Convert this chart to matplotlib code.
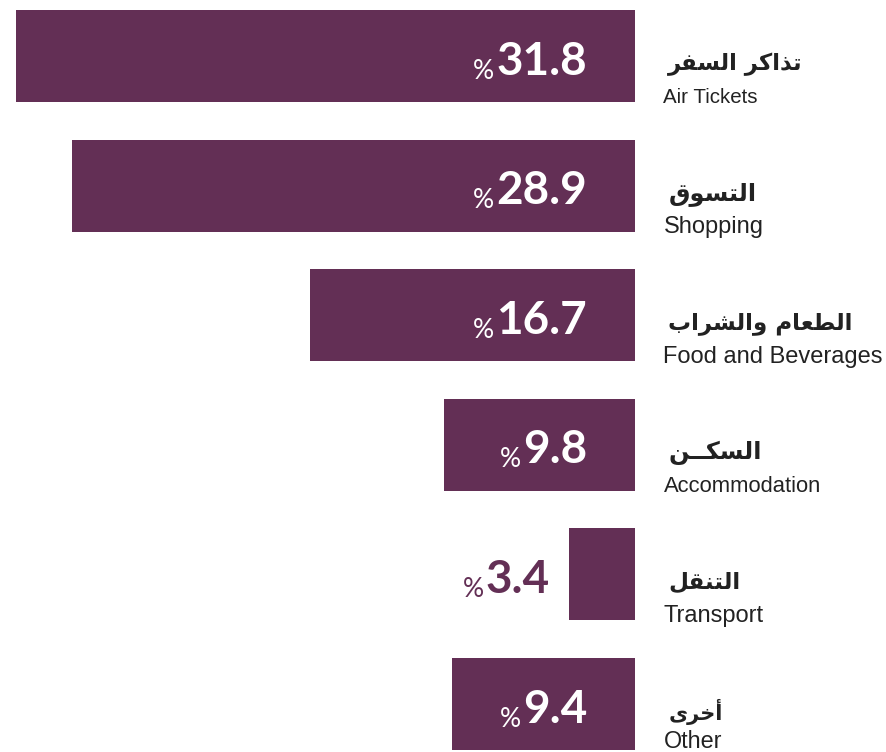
import matplotlib
matplotlib.use("Agg")
import matplotlib.pyplot as plt

# data
labels_ar = ["تذاكر السفر", "التسوق", "الطعام والشراب", "السكــن", "التنقل", "أخرى"]
labels_en = ["Air Tickets", "Shopping", "Food and Beverages", "Accommodation", "Transport", "Other"]
values = [31.8, 28.9, 16.7, 9.8, 3.4, 9.4]
value_text = ["31.8", "28.9", "16.7", "9.8", "3.4", "9.4"]

PURPLE = "#632f55"
DARK = "#222222"
# label sizes differ a little from row to row in the original
ar_sizes = [16.4, 17.3, 16.6, 17.3, 16.6, 15.0]
en_sizes = [14.8, 17.0, 17.0, 15.8, 17.0, 16.8]
en_dy = [-30, -30, -30, -30, -30, -27]

# very small arabic shaper (matplotlib has no text shaping)
# letter: (isolated, final, initial, medial); two forms = no join to next letter
FORMS = {
    "ا": (0xFE8D, 0xFE8E), "أ": (0xFE83, 0xFE84), "ذ": (0xFEAB, 0xFEAC),
    "ر": (0xFEAD, 0xFEAE), "و": (0xFEED, 0xFEEE), "ى": (0xFEEF, 0xFEF0),
    "ب": (0xFE8F, 0xFE90, 0xFE91, 0xFE92), "ت": (0xFE95, 0xFE96, 0xFE97, 0xFE98),
    "خ": (0xFEA5, 0xFEA6, 0xFEA7, 0xFEA8), "س": (0xFEB1, 0xFEB2, 0xFEB3, 0xFEB4),
    "ش": (0xFEB5, 0xFEB6, 0xFEB7, 0xFEB8), "ط": (0xFEC1, 0xFEC2, 0xFEC3, 0xFEC4),
    "ع": (0xFEC9, 0xFECA, 0xFECB, 0xFECC), "ف": (0xFED1, 0xFED2, 0xFED3, 0xFED4),
    "ق": (0xFED5, 0xFED6, 0xFED7, 0xFED8), "ك": (0xFED9, 0xFEDA, 0xFEDB, 0xFEDC),
    "ل": (0xFEDD, 0xFEDE, 0xFEDF, 0xFEE0), "م": (0xFEE1, 0xFEE2, 0xFEE3, 0xFEE4),
    "ن": (0xFEE5, 0xFEE6, 0xFEE7, 0xFEE8),
}
TATWEEL = "ـ"


def joins_next(c):
    return c == TATWEEL or (c in FORMS and len(FORMS[c]) == 4)


def joins_prev(c):
    return c == TATWEEL or c in FORMS


def shape(s):
    out = []
    for i, c in enumerate(s):
        if c not in FORMS:
            out.append(c)
            continue
        f = FORMS[c]
        prev = s[i - 1] if i > 0 else ""
        nxt = s[i + 1] if i + 1 < len(s) else ""
        p = prev != "" and joins_next(prev)
        n = len(f) == 4 and nxt != "" and joins_prev(nxt)
        if p and n:
            out.append(chr(f[3]))
        elif p:
            out.append(chr(f[1]))
        elif n:
            out.append(chr(f[2]))
        else:
            out.append(chr(f[0]))
    return "".join(out)[::-1]


fig = plt.figure(figsize=(8.87, 7.52), dpi=100)
ax = fig.add_axes([0, 0, 635 / 887, 1])
ypos = list(range(len(values)))
ax.barh(ypos, values, height=0.71, color=PURPLE, left=0)
ax.set_xlim(32.6, 0)
ax.set_ylim(5.37, -0.432)
ax.axis("off")

nums = []
for i, v in enumerate(values):
    inside = v > 5
    if inside:
        t = ax.annotate(value_text[i], xy=(0, i), xytext=(-34.5, -4), textcoords="offset points",
                        ha="right", va="center", fontsize=33, fontweight="bold",
                        family="Lato", color="white")
    else:
        t = ax.annotate(value_text[i], xy=(v, i), xytext=(-13.7, -4), textcoords="offset points",
                        ha="right", va="center", fontsize=33, fontweight="bold",
                        family="Lato", color=PURPLE)
    nums.append((t, "white" if inside else PURPLE))

    ax.annotate(shape(labels_ar[i]), xy=(0, i), xytext=(24, -6), textcoords="offset points",
                ha="left", va="center", fontsize=ar_sizes[i], fontweight="bold",
                family="DejaVu Sans", color=DARK, annotation_clip=False)
    ax.annotate(labels_en[i], xy=(0, i), xytext=(20.5, en_dy[i]), textcoords="offset points",
                ha="left", va="center", fontsize=en_sizes[i], family="Liberation Sans",
                color=DARK, annotation_clip=False)

fig.canvas.draw()
r = fig.canvas.get_renderer()
for t, col in nums:
    bb = t.get_window_extent(renderer=r)
    fig.text(bb.x0 - 2, bb.y0 + 4, "%", transform=None, ha="right", va="baseline",
             fontsize=19, family="Lato", color=col)

fig.savefig("out.png", dpi=100)
